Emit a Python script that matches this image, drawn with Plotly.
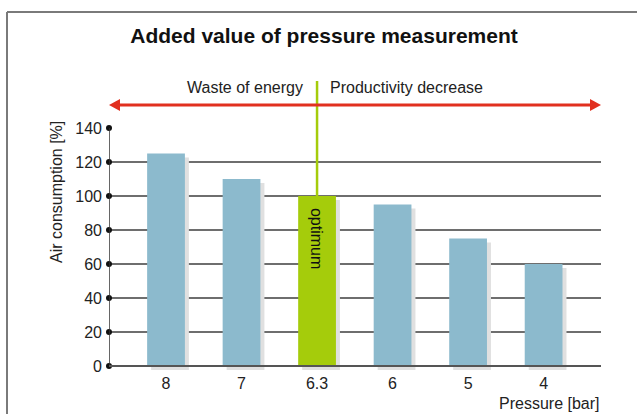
import plotly.graph_objects as go

# ---- data ----
pressure_labels = ["8", "7", "6.3", "6", "5", "4"]
air_consumption = [125, 110, 100, 95, 75, 60]
optimum_index = 2
y_ticks = [0, 20, 40, 60, 80, 100, 120, 140]

title_text = "Added value of pressure measurement"
left_label = "Waste of energy"
right_label = "Productivity decrease"
optimum_label = "optimum"
y_title = "Air consumption [%]"
x_title = "Pressure [bar]"

# ---- layout geometry (pixels) ----
W, H = 637, 414
PL, PR, PT, PB = 109, 601, 128, 372
x_range = [-0.755, 5.76]
y_top = 140
px_per_unit = (366 - PT) / y_top
y_min = -(PB - 366) / px_per_unit
y_range = [y_min, y_top]


def px2paper_x(px):
    return (px - PL) / (PR - PL)


def px2paper_y(py):
    return (PB - py) / (PB - PT)


def data2paper_y(v):
    return (v - y_range[0]) / (y_range[1] - y_range[0])


BLUE = "#8cbacd"
GREEN = "#a5cc0b"
SHADOW = "#e0e0e0"
GRID = "#6e6e6e"
RED = "#e1301f"
FONT = "Liberation Sans, Arial, sans-serif"
FS = 16

xs = list(range(len(pressure_labels)))
colors = [GREEN if i == optimum_index else BLUE for i in xs]
sx = 4 / ((PR - PL) / (x_range[1] - x_range[0]))
sy = 4 / px_per_unit

fig = go.Figure()
fig.add_trace(go.Bar(x=[x + sx for x in xs], y=air_consumption, base=[-sy] * len(xs),
                     width=0.5, marker=dict(color=SHADOW, line=dict(width=0)),
                     hoverinfo="skip", showlegend=False))
fig.add_trace(go.Bar(x=xs, y=air_consumption, width=0.5,
                     marker=dict(color=colors, line=dict(width=0)),
                     showlegend=False))
# tick dots
fig.add_trace(go.Scatter(x=[x_range[0]] * len(y_ticks), y=y_ticks, mode="markers",
                         marker=dict(color="#111", size=6), cliponaxis=False,
                         hoverinfo="skip", showlegend=False))

shapes = []
shapes.append(dict(type="line", xref="x", yref="y", x0=x_range[0], x1=x_range[0], y0=0, y1=y_top,
                   line=dict(color="#333", width=1.5), layer="above"))
shapes.append(dict(type="line", xref="x", yref="y", x0=x_range[0], x1=x_range[1], y0=0, y1=0,
                   line=dict(color="#555", width=2), layer="above"))
shapes.append(dict(type="line", xref="x", yref="paper", x0=optimum_index, x1=optimum_index,
                   y0=data2paper_y(air_consumption[optimum_index]), y1=px2paper_y(81),
                   line=dict(color=GREEN, width=2.5), layer="above"))
ay = px2paper_y(105)
shapes.append(dict(type="line", xref="paper", yref="paper", x0=px2paper_x(115), x1=px2paper_x(595),
                   y0=ay, y1=ay, line=dict(color=RED, width=3)))
for tip, base in [(601, 590), (109, 120)]:
    shapes.append(dict(type="path", xref="paper", yref="paper",
                       path=f"M {px2paper_x(tip)} {ay} L {px2paper_x(base)} {px2paper_y(99)} "
                            f"L {px2paper_x(base)} {px2paper_y(111)} Z",
                       fillcolor=RED, line=dict(width=0)))
shapes.append(dict(type="line", xref="paper", yref="paper", x0=px2paper_x(7), x1=px2paper_x(640),
                   y0=px2paper_y(12), y1=px2paper_y(12), line=dict(color="#7a7a7a", width=2)))
shapes.append(dict(type="line", xref="paper", yref="paper", x0=px2paper_x(7), x1=px2paper_x(7),
                   y0=px2paper_y(12), y1=px2paper_y(420), line=dict(color="#7a7a7a", width=2)))

annotations = [
    dict(text=left_label, xref="paper", yref="paper", x=px2paper_x(305), y=px2paper_y(87),
         xanchor="right", yanchor="middle", showarrow=False,
         font=dict(family=FONT, size=FS, color="#222")),
    dict(text=right_label, xref="paper", yref="paper", x=px2paper_x(328), y=px2paper_y(87),
         xanchor="left", yanchor="middle", showarrow=False,
         font=dict(family=FONT, size=FS, color="#222")),
    dict(text=optimum_label, xref="x", yref="paper", x=optimum_index, y=px2paper_y(238),
         xanchor="center", yanchor="middle", textangle=90, showarrow=False,
         font=dict(family=FONT, size=FS, color="#111")),
    dict(text=y_title, xref="paper", yref="paper", x=px2paper_x(56), y=px2paper_y(192),
         xanchor="center", yanchor="middle", textangle=-90, showarrow=False,
         font=dict(family=FONT, size=FS, color="#222")),
    dict(text=x_title, xref="paper", yref="paper", x=px2paper_x(601), y=px2paper_y(403),
         xanchor="right", yanchor="middle", showarrow=False,
         font=dict(family=FONT, size=FS, color="#222")),
]

fig.update_layout(
    width=W, height=H,
    margin=dict(l=PL, r=W - PR, t=PT, b=H - PB, pad=0),
    paper_bgcolor="white", plot_bgcolor="white",
    barmode="overlay",
    title=dict(text=f"<b>{title_text}</b>", x=324 / W, y=1 - 36 / H, xanchor="center",
               yanchor="middle", font=dict(family=FONT, size=21, color="#111")),
    xaxis=dict(range=x_range, tickvals=xs, ticktext=pressure_labels, showgrid=False,
               zeroline=False, showline=False, ticks="", ticklen=0,
               tickfont=dict(family=FONT, size=FS, color="#222"), fixedrange=True),
    yaxis=dict(range=y_range, tickvals=y_ticks, showgrid=True, gridcolor=GRID, gridwidth=1.5,
               zeroline=False, showline=False, ticks="", ticklabelstandoff=6,
               tickfont=dict(family=FONT, size=FS, color="#222"), fixedrange=True),
    shapes=shapes, annotations=annotations,
    showlegend=False,
    hovermode=False,
)

fig.write_html("out.html", config={"displayModeBar": False},
               post_script="document.body.style.margin='0';document.body.style.overflow='hidden';")
